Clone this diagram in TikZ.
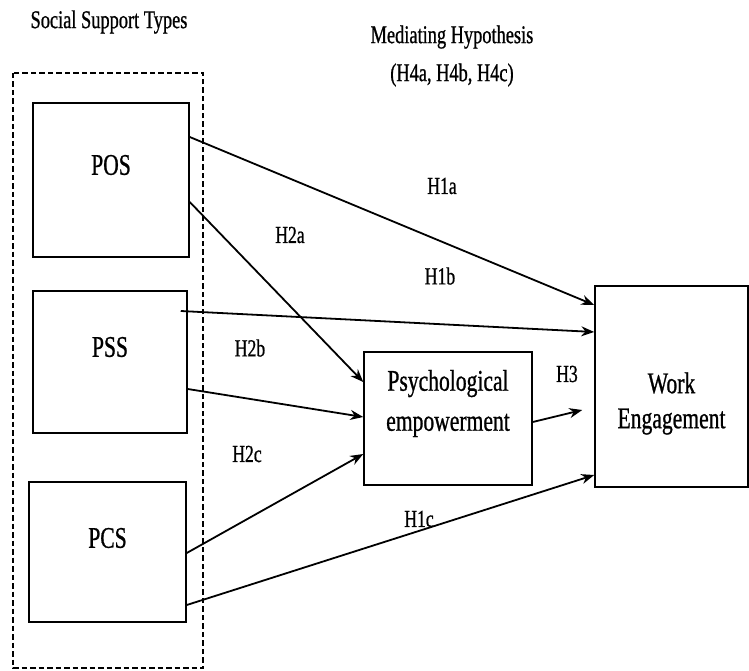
\documentclass[tikz,border=0pt]{standalone}
\usepackage{fontspec}
\setmainfont{Liberation Serif}[FakeStretch=0.72,FakeBold=0.8]
\usetikzlibrary{arrows.meta}

\begin{document}
\begin{tikzpicture}[x=1pt,y=-1pt,
  box/.style={draw,line width=1.5pt,inner sep=0pt},
  boxtxt/.style={align=center,font=\fontsize{30}{38}\selectfont},
  hyp/.style={font=\fontsize{24.5}{26}\selectfont},
  ttl/.style={align=center,font=\fontsize{25.5}{38}\selectfont},
  arr/.style={line width=1.8pt,-{Stealth[length=13pt,width=10pt]}}]
\useasboundingbox (0,0) rectangle (749,671);
% support types frame
\draw[line width=1.6pt,dash pattern=on 5.5pt off 3pt] (13,73) rectangle (203,668);
\node[ttl] (sst) at (109,22) {Social Support Types};
\node[ttl] (med) at (452,56) {Mediating Hypothesis\\(H4a, H4b, H4c)};
% boxes
\node[box,minimum width=156pt,minimum height=154pt] (pos) at (111,180) {};
\node[box,minimum width=154pt,minimum height=142pt] (pss) at (110,362) {};
\node[box,minimum width=157pt,minimum height=140pt] (pcs) at (107.5,552) {};
\node[box,minimum width=168pt,minimum height=133pt] (pe) at (448,418.5) {};
\node[box,minimum width=153pt,minimum height=201pt] (we) at (671.5,386.5) {};
\node[boxtxt] (posl) at ([yshift=15pt]pos.center) {POS};
\node[boxtxt] (pssl) at ([yshift=15pt]pss.center) {PSS};
\node[boxtxt] (pcsl) at ([yshift=14pt]pcs.center) {PCS};
\node[boxtxt] (pel) at ([yshift=15pt]pe.center) {Psychological\\[2pt]empowerment};
\node[boxtxt] (wel) at ([yshift=-17pt]we.center) {Work\\[-3pt]Engagement};
% paths
\draw[arr] ([yshift=43pt]pos.east) -- ([yshift=81.5pt]we.west);
\draw[arr] ([yshift=-22pt]pos.east) -- ([yshift=36.5pt]pe.west);
\draw[arr] ([xshift=-7pt,yshift=51pt]pss.east) -- ([yshift=54.5pt]we.west);
\draw[arr] ([yshift=-27pt]pss.east) -- ([yshift=1.5pt]pe.west);
\draw[arr] ([yshift=-1pt]pcs.east) -- ([yshift=-35.5pt]pe.west);
\draw[arr] ([yshift=-53pt]pcs.east) -- ([yshift=-88.5pt]we.west);
\draw[arr] ([yshift=-3.5pt]pe.east) -- ([xshift=-12pt,yshift=-23.5pt]we.west);
\node[hyp] (h1a) at (442,186) {H1a};
\node[hyp] (h2a) at (290,235) {H2a};
\node[hyp] (h1b) at (440,276) {H1b};
\node[hyp] (h2b) at (250,348) {H2b};
\node[hyp] (h2c) at (247,454) {H2c};
\node[hyp] (h3) at (567,374) {H3};
\node[hyp] (h1c) at (419,519) {H1c};
\end{tikzpicture}
\end{document}
